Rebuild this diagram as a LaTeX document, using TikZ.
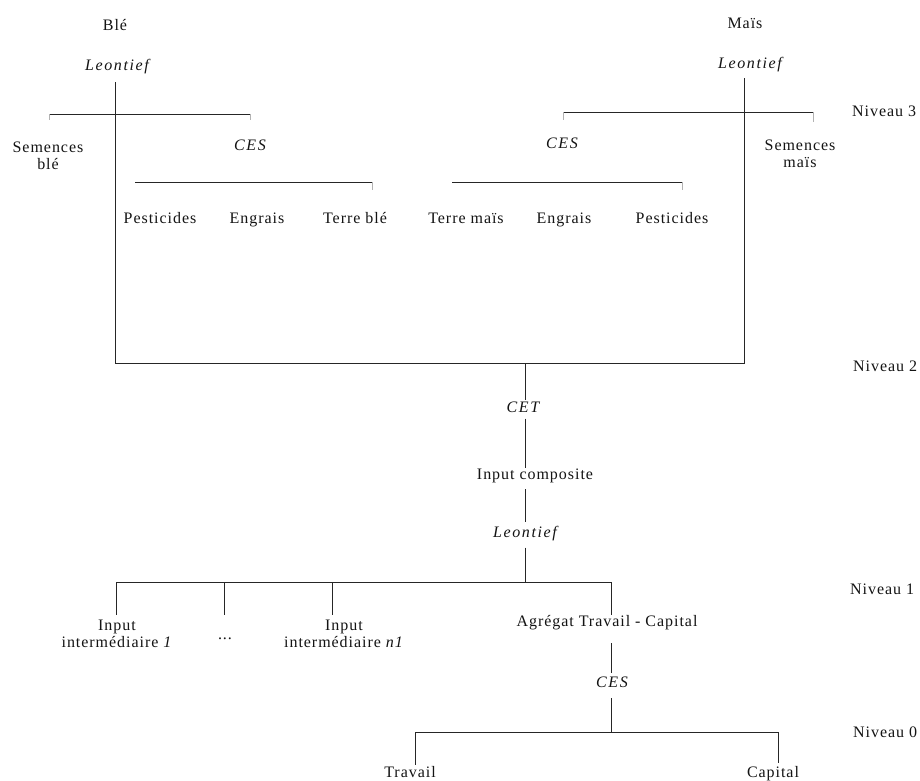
\documentclass[tikz,border=0pt]{standalone}
\usepackage{fontspec}
\setmainfont[LetterSpace=6]{Liberation Serif}
\begin{document}
\begin{tikzpicture}[x=1pt,y=-1pt,
  lab/.style={font=\fontsize{16}{17}\selectfont, inner sep=1pt, align=center, text=black!92},
  itl/.style={font=\fontsize{16}{17}\selectfont\itshape\addfontfeatures{LetterSpace=10}, inner sep=1pt, align=center, text=black!92},
  ln/.style={line width=0.8pt, draw=black!85},
  tk/.style={line width=0.5pt, draw=black!30}]
\fill[white] (0,0) rectangle (920,780);
\useasboundingbox (0,0) rectangle (920,780);

% ---------- top, Blé ----------
\node[lab] (ble) at (115,25) {Blé};
\node[itl] (leoB) at (117,67) {Leontief};
\node[lab] (semB) at (48,156) {Semences\\blé};
\node[itl] (cesB) at (250,145) {CES};
\node[lab, anchor=base] (pestB) at (160,223) {Pesticides};
\node[lab, anchor=base] (engB) at (257,223) {Engrais};
\node[lab, anchor=base] (terB) at (355,223) {Terre blé};

% ---------- top, Maïs ----------
\node[lab] (mais) at (745,23) {Maïs};
\node[itl] (leoM) at (750,65) {Leontief};
\node[itl] (cesM) at (562,143) {CES};
\node[lab] (semM) at (800,154) {Semences\\maïs};
\node[lab, anchor=base] (terM) at (466,223) {Terre maïs};
\node[lab, anchor=base] (engM) at (564,223) {Engrais};
\node[lab, anchor=base] (pestM) at (672,223) {Pesticides};

% ---------- level labels ----------
\node[lab, anchor=west] (n3) at (851,111) {Niveau 3};
\node[lab, anchor=west] (n2) at (852,366) {Niveau 2};
\node[lab, anchor=west] (n1) at (849,589) {Niveau 1};
\node[lab, anchor=west] (n0) at (852,732) {Niveau 0};

% ---------- middle and bottom ----------
\node[itl] (cet) at (523,407) {CET};
\node[lab] (inc) at (535,476) {Input composite};
\node[itl] (leoC) at (525,534) {Leontief};
\node[lab] (in1) at (117,634) {Input\\intermédiaire \textit{1}};
\node[lab, anchor=base] (dots) at (225,639) {...};
\node[lab] (inn) at (344,634) {Input\\intermédiaire \textit{n1}};
\node[lab] (agr) at (607,623) {Agrégat Travail - Capital};
\node[itl] (cesL) at (612,682) {CES};
\node[lab, anchor=base] (trav) at (410,777) {Travail};
\node[lab, anchor=base] (cap) at (773,777) {Capital};

% ---------- coordinates ----------
\coordinate (vBtop) at (115,82);
\coordinate (boxBL) at (115,363);
\coordinate (boxBR) at (744,363);
\coordinate (vMtop) at (744,78);
\coordinate (bBl) at (49,114);
\coordinate (bBr) at (250,114);
\coordinate (cBl) at (135,182);
\coordinate (cBr) at (372,182);
\coordinate (bMl) at (563,112);
\coordinate (bMr) at (813,112);
\coordinate (cMl) at (452,182);
\coordinate (cMr) at (682,182);
\coordinate (sp) at (525,363);
\coordinate (l1l) at (116,582);
\coordinate (l1r) at (611,582);
\coordinate (l1j) at (525,582);
\coordinate (t1) at (116,615);
\coordinate (td) at (224,582);
\coordinate (tdb) at (224,615);
\coordinate (tn) at (332,582);
\coordinate (tnb) at (332,615);
\coordinate (tag) at (611,615);
\coordinate (ag1) at (611,643);
\coordinate (ag2) at (611,673);
\coordinate (ag3) at (611,698);
\coordinate (l0j) at (611,732);
\coordinate (l0l) at (415,732);
\coordinate (l0r) at (778,732);
\coordinate (trt) at (415,765);
\coordinate (cpt) at (778,763);

% ---------- level 3 and box ----------
\draw[ln] (vBtop) -- (boxBL) -- (boxBR) -- (vMtop);
\draw[ln] (bBl) -- (bBr);
\draw[tk] (bBl) -- ++(0,6);
\draw[tk] (bBr) -- ++(0,6);
\draw[ln] (cBl) -- (cBr);
\draw[tk] (cBr) -- ++(0,8);
\draw[ln] (bMl) -- (bMr);
\draw[tk] (bMl) -- ++(0,8);
\draw[tk] (bMr) -- ++(0,10);
\draw[ln] (cMl) -- (cMr);
\draw[tk] (cMr) -- ++(0,8);

% ---------- spine ----------
\draw[ln] (sp) -- (sp |- cet.north);
\draw[ln] ([yshift=-5pt]sp |- cet.south) -- (sp |- inc.north);
\draw[ln] ([yshift=-5pt]sp |- inc.south) -- ([yshift=3pt]sp |- leoC.north);
\draw[ln] ([yshift=-5pt]sp |- leoC.south) -- (l1j);

% ---------- level 1 ----------
\draw[ln] (l1l) -- (l1r);
\draw[ln] (l1l) -- (t1);
\draw[ln] (td) -- (tdb);
\draw[ln] (tn) -- (tnb);
\draw[ln] (l1r) -- (tag);
\draw[ln] (ag1) -- (ag2);
\draw[ln] (ag3) -- (l0j);

% ---------- level 0 ----------
\draw[ln] (l0l) -- (l0r);
\draw[ln] (l0l) -- (trt);
\draw[ln] (l0r) -- (cpt);
\end{tikzpicture}
\end{document}
